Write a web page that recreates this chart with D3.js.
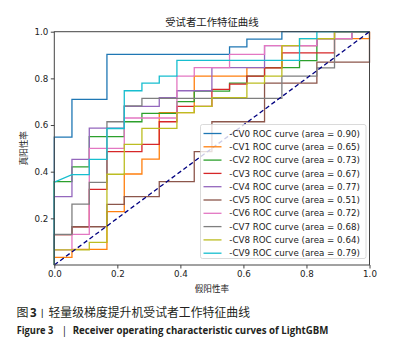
<!DOCTYPE html>
<html><head><meta charset="utf-8">
<script src="https://cdn.jsdelivr.net/npm/d3@7"></script>
<style>body{margin:0;background:#fff}svg{display:block}</style>
</head><body><svg id="c" width="400" height="350"></svg>
<script>
const categories = ["CV0","CV1","CV2","CV3","CV4","CV5","CV6","CV7","CV8","CV9"];
const aucValues = [0.90,0.65,0.73,0.67,0.77,0.51,0.72,0.68,0.64,0.79];

const fprCV0 = [0,0,.056,.056,.167,.167,.556,.556,.611,.611,.722,.722,1];
const tprCV0 = [0,.548,.548,.71,.71,.903,.903,.935,.935,.968,.968,1,1];

const fprCV1 = [0,0,.056,.056,.167,.167,.222,.222,.278,.278,.333,.333,.444,.444,.611,.611,.722,.722,.833,.833,1,1];
const tprCV1 = [0,.033,.033,.067,.067,.229,.229,.39,.39,.454,.454,.653,.653,.81,.81,.846,.846,.94,.94,.97,.97,1];

const fprCV2 = [0,0,.056,.056,.111,.111,.222,.222,.278,.278,.389,.389,.444,.444,.556,.556,.611,.611,.667,.667,.778,.778,.833,.833,.944,.944,1];
const tprCV2 = [0,.357,.357,.421,.421,.55,.55,.614,.614,.65,.65,.70,.70,.745,.745,.78,.78,.81,.81,.846,.846,.876,.876,.97,.97,1,1];

const fprCV3 = [0,0,.056,.056,.111,.111,.167,.167,.278,.278,.333,.333,.389,.389,.5,.5,.556,.556,.611,.611,.667,.667,.722,.722,.889,.889,1];
const tprCV3 = [0,.13,.13,.164,.164,.324,.324,.486,.486,.517,.517,.614,.614,.68,.68,.753,.753,.775,.775,.81,.81,.845,.845,.909,.909,1,1];

const fprCV4 = [0,0,.056,.056,.111,.111,.222,.222,.333,.333,.389,.389,.5,.5,.667,.667,.833,.833,.944,.944,1];
const tprCV4 = [0,.293,.293,.453,.453,.587,.587,.68,.68,.717,.717,.747,.747,.846,.846,.94,.94,.97,.97,1,1];

const fprCV5 = [0,0,.056,.056,.167,.167,.222,.222,.333,.333,.444,.444,.5,.5,.667,.667,.833,.833,1,1];
const tprCV5 = [0,.13,.13,.164,.164,.26,.26,.293,.293,.357,.357,.486,.486,.614,.614,.78,.78,.87,.87,1];

const fprCV6 = [0,0,.056,.056,.111,.111,.222,.222,.389,.389,.444,.444,.556,.556,.667,.667,.833,.833,.944,.944,1];
const tprCV6 = [0,.065,.065,.131,.131,.5,.5,.63,.63,.81,.81,.846,.846,.903,.903,.94,.94,.97,.97,1,1];

const fprCV7 = [0,0,.056,.056,.111,.111,.167,.167,.222,.222,.278,.278,.722,.722,.833,.833,.889,.889,1];
const tprCV7 = [0,.131,.131,.261,.261,.354,.354,.614,.614,.682,.682,.714,.714,.81,.81,.845,.845,1,1];

const fprCV8 = [0,0,.111,.111,.167,.167,.222,.222,.278,.278,.389,.389,.444,.444,.5,.5,.611,.611,.667,.667,.722,.722,.778,.778,.889,.889,1];
const tprCV8 = [0,.065,.065,.097,.097,.389,.389,.517,.517,.586,.586,.653,.653,.68,.68,.717,.717,.78,.78,.81,.81,.94,.94,.97,.97,1,1];

const fprCV9 = [0,0,.056,.111,.111,.167,.167,.222,.222,.278,.278,.333,.333,.389,.389,.778,.778,.833,.833,1];
const tprCV9 = [0,.355,.387,.387,.453,.453,.585,.585,.747,.747,.78,.78,.81,.81,.877,.877,.97,.97,1,1];

const diagX = [0,1];
const diagY = [0,1];
const xTicks = [0,0.2,0.4,0.6,0.8,1.0];
const yTicks = [0.2,0.4,0.6,0.8,1.0];

const fprs = [fprCV0,fprCV1,fprCV2,fprCV3,fprCV4,fprCV5,fprCV6,fprCV7,fprCV8,fprCV9];
const tprs = [tprCV0,tprCV1,tprCV2,tprCV3,tprCV4,tprCV5,tprCV6,tprCV7,tprCV8,tprCV9];

const svg = d3.select("#c");
const L = 54.3, R = 369.5, T = 31.7, B = 265;
const x = d3.scaleLinear().domain([0,1]).range([L,R]);
const y = d3.scaleLinear().domain([0,1]).range([B,T]);
const colors = d3.schemeCategory10;
const tickFont = "DejaVu Sans, sans-serif";
const cjk = "'Noto Sans CJK SC', sans-serif";

svg.append("rect").attr("width",400).attr("height",350).attr("fill","#fff");

const line = d3.line().x(d=>x(d[0])).y(d=>y(d[1]));
const g = svg.append("g");
fprs.forEach((f,i)=>{
  const pts = f.map((v,j)=>[v,tprs[i][j]]);
  g.append("path").attr("d",line(pts)).attr("fill","none")
   .attr("stroke",colors[i]).attr("stroke-width",1.3).attr("stroke-linejoin","miter");
});
g.append("path").attr("d",line(diagX.map((v,j)=>[v,diagY[j]])))
 .attr("fill","none").attr("stroke","#000080").attr("stroke-width",1.3)
 .attr("stroke-dasharray","4.5,2.8");

// frame
svg.append("rect").attr("x",L).attr("y",T).attr("width",R-L).attr("height",B-T)
  .attr("fill","none").attr("stroke","#444").attr("stroke-width",1);

// axes
const xAxis = d3.axisBottom(x).tickValues(xTicks).tickFormat(d3.format(".1f")).tickSize(3.5).tickSizeOuter(0);
const yAxis = d3.axisLeft(y).tickValues(yTicks).tickFormat(d3.format(".1f")).tickSize(3.5).tickSizeOuter(0);
const gx = svg.append("g").attr("transform",`translate(0,${B})`).call(xAxis);
const gy = svg.append("g").attr("transform",`translate(${L},0)`).call(yAxis);
[gx,gy].forEach(a=>{
  a.select(".domain").remove();
  a.selectAll("line").attr("stroke","#444");
  a.selectAll("text").attr("font-family",tickFont).attr("font-size",8.7).attr("fill","#222");
});
gx.selectAll("text").attr("dy","0.71em").attr("y",6);
gy.selectAll("text").attr("x",-6);

// title & labels
svg.append("text").attr("x",(L+R)/2).attr("y",25.5).attr("text-anchor","middle")
  .attr("font-family",cjk).attr("font-size",10.4).attr("fill","#222").text("受试者工作特征曲线");
svg.append("text").attr("x",(L+R)/2).attr("y",291.5).attr("text-anchor","middle")
  .attr("font-family",cjk).attr("font-size",8.6).attr("fill","#222").text("假阳性率");
svg.append("text").attr("transform",`translate(27,${(T+B)/2}) rotate(-90)`).attr("text-anchor","middle")
  .attr("font-family",cjk).attr("font-size",8.6).attr("fill","#222").text("真阳性率");

// legend
const lg = svg.append("g");
lg.append("rect").attr("x",200.5).attr("y",124.5).attr("width",165.5).attr("height",134)
  .attr("rx",2).attr("fill","#fff").attr("fill-opacity",0.8).attr("stroke","#d0d0d0").attr("stroke-width",0.8);
categories.forEach((c,i)=>{
  const cy = 133.5 + i*13.3;
  lg.append("line").attr("x1",203.5).attr("x2",221.5).attr("y1",cy).attr("y2",cy)
    .attr("stroke",colors[i]).attr("stroke-width",1.3);
  lg.append("text").attr("x",229.3).attr("y",cy+3.1).attr("font-family",tickFont)
    .attr("font-size",8.7).attr("fill","#222")
    .text(`-${c} ROC curve (area = ${aucValues[i].toFixed(2)})`);
});

// captions
const cap = svg.append("g").attr("fill","#231f20");
cap.append("text").attr("x",16.5).attr("y",317).attr("font-family",cjk).attr("font-size",12).text("图");
cap.append("text").attr("x",30).attr("y",317).attr("font-family","'Open Sans', sans-serif").attr("font-weight","bold").attr("font-size",11.5).text("3");
cap.append("text").attr("x",37.3).attr("y",316.5).attr("font-family",cjk).attr("font-size",10).text("丨");
cap.append("text").attr("x",48.5).attr("y",317).attr("font-family",cjk).attr("font-size",12)
  .attr("textLength",201.5).attr("lengthAdjust","spacingAndGlyphs").text("轻量级梯度提升机受试者工作特征曲线");
cap.append("text").attr("x",16.7).attr("y",334).attr("font-family","'Open Sans', sans-serif").attr("font-weight","bold")
  .attr("font-size",10.5).attr("textLength",36.6).attr("lengthAdjust","spacingAndGlyphs").text("Figure 3");
cap.append("text").attr("x",61.5).attr("y",334).attr("font-family","'Open Sans', sans-serif")
  .attr("font-size",10.5).text("|");
cap.append("text").attr("x",72.7).attr("y",334).attr("font-family","'Open Sans', sans-serif").attr("font-weight","bold")
  .attr("font-size",10.5).attr("textLength",255.6).attr("lengthAdjust","spacingAndGlyphs")
  .text("Receiver operating characteristic curves of LightGBM");
</script></body></html>
